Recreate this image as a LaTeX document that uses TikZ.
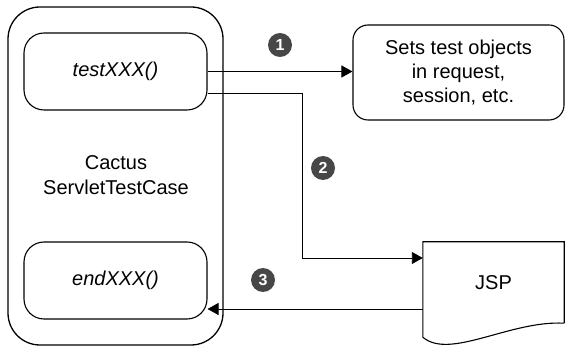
\documentclass[tikz,border=0pt]{standalone}
\usepackage{fontspec}
\setmainfont{Liberation Sans}
\usepackage{tikz}
\usetikzlibrary{positioning,calc,arrows.meta}

\begin{document}
\begin{tikzpicture}[
  x=1pt, y=1pt,
  box/.style={draw, line width=1.1pt, rounded corners=20pt, inner sep=0pt,
    minimum width=183pt, minimum height=77pt,
    font=\fontsize{20}{24}\selectfont\itshape, align=center},
  lbl/.style={font=\fontsize{20}{25}\selectfont, align=center},
  numdot/.style={circle, fill=black!72, text=white, inner sep=0pt,
    minimum size=24pt, font=\fontsize{16}{16}\selectfont\bfseries},
  arr/.style={-{Triangle[length=11pt,width=12pt]}, line width=0.9pt},
]
\useasboundingbox (0,0) rectangle (565,348);

% ---- test case (left) ----
\node[draw, line width=1.3pt, rounded corners=32pt, minimum width=215pt,
  minimum height=338pt] (case) at (115.5,172) {};
\node[lbl] (casename) at (116,173) {Cactus\\ServletTestCase};

\node[box] (test) at (115.5,276.5) {testXXX()};
\node[box] (endx) at (115.5,67.5) {endXXX()};

% ---- right side ----
\node[lbl, draw, line width=1.1pt, rounded corners=15pt, inner sep=0pt,
  minimum width=211pt, minimum height=95pt, font=\fontsize{20}{24}\selectfont]
  (sets) at (458.5,275.5) {Sets test objects\\in request,\\session, etc.};

\node[lbl, inner sep=0pt, minimum width=141pt, minimum height=82pt]
  (jsp) at (493.5,65) {JSP};
\draw[line width=1.1pt] ([yshift=1pt]jsp.south east) -- (jsp.north east)
  -- (jsp.north west) -- ([yshift=-13pt]jsp.south west)
  .. controls +(27pt,-23pt) and +(-54pt,3pt) .. ([yshift=1pt]jsp.south east);

% ---- arrows ----
\draw[arr] (test.east) -- (test.east -| sets.west);

\coordinate (turn) at (302,90);
\draw[arr] ([yshift=-21.5pt]test.east) -| (turn) -- (turn -| jsp.west);

\coordinate (back) at ([yshift=-26pt]jsp.west);
\draw[arr] (back) -- (back -| endx.east);

% ---- step numbers ----
\node[numdot] (n1) at (280,303) {1};
\node[numdot] (n2) at (323,180) {2};
\node[numdot] (n3) at (263,68) {3};
\end{tikzpicture}
\end{document}
